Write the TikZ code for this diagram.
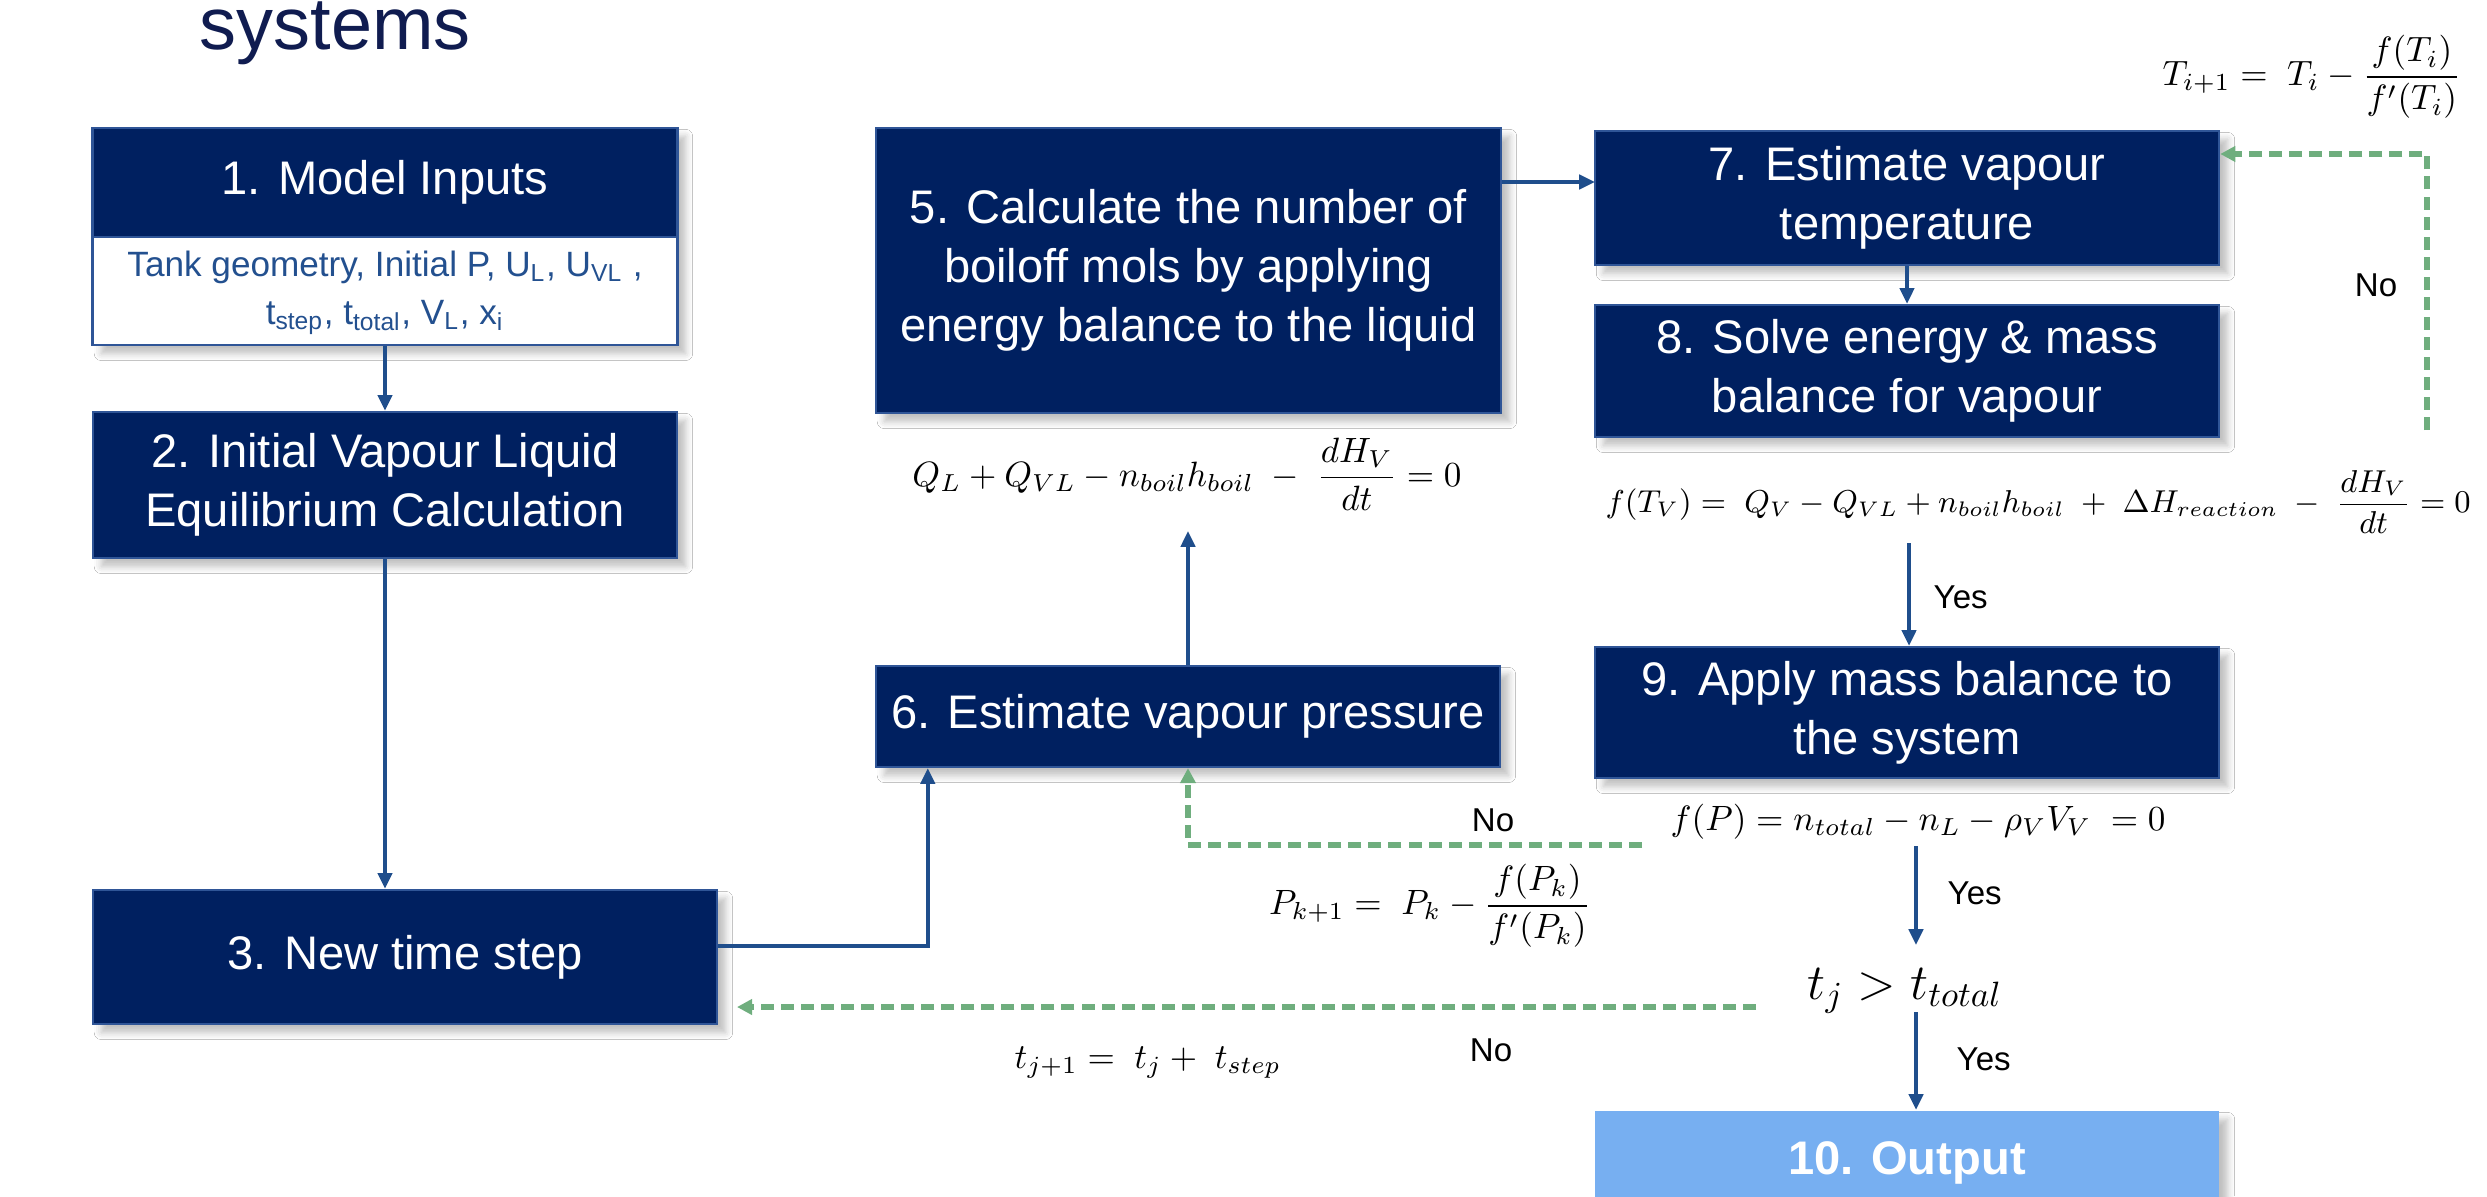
\documentclass[tikz,border=0pt]{standalone}
\usepackage{amsmath}
\usepackage[no-math]{fontspec}
\setmainfont{Liberation Sans}
\usetikzlibrary{arrows.meta,calc,shadows.blur}
\definecolor{navy}{HTML}{002060}
\definecolor{edgeblue}{HTML}{2F5597}
\definecolor{connblue}{HTML}{1F4E8C}
\definecolor{nogreen}{HTML}{6FAE7E}
\definecolor{outblue}{HTML}{77AFF1}
\definecolor{titlenavy}{HTML}{101C50}
\definecolor{inputblue}{HTML}{23508F}
\newcommand{\bxfont}{\fontsize{13.4}{16.8}\selectfont}
\newcommand{\inpfont}{\fontsize{10.0}{13.7}\selectfont}
\newcommand{\lblfont}{\fontsize{9.4}{11}\selectfont}
\newcommand{\eqfont}{\fontsize{10}{12}\selectfont}
\newcommand{\eqTfont}{\fontsize{9.1}{11}\selectfont}
\newcommand{\condfont}{\fontsize{14.2}{16}\selectfont}
\newcommand{\ttlfont}{\fontsize{21}{24}\selectfont}
\begin{document}
\begin{tikzpicture}[x=0.01cm,y=-0.01cm,
  shade/.style={blur shadow={shadow xshift=2.4pt, shadow yshift=-2.4pt, shadow blur radius=2pt, shadow opacity=25}},
  box/.style={fill=navy, draw=edgeblue, line width=0.6pt, text=white, align=center, inner sep=0pt, font=\bxfont, shade},
  conn/.style={draw=connblue, line width=1.15pt, -{Triangle[length=4.5pt,width=4pt]}},
  loopback/.style={draw=nogreen, line width=1.5pt, dash pattern=on 3.7pt off 2pt, -{Triangle[length=4.3pt,width=4.3pt]}},
  lbl/.style={font=\lblfont, inner sep=0pt},
  eq/.style={font=\eqfont, inner sep=0pt}]
\clip (0,0) rectangle (2487,1196);
\fill[white] (0,0) rectangle (2487,1196);

% title fragment
\node[font=\ttlfont, text=titlenavy, anchor=base west, inner sep=0pt] (title) at (199,49) {systems};

% box 1
\node[fill=white, draw=edgeblue, line width=0.8pt, minimum width=5.84cm, minimum height=2.17cm, inner sep=0pt, shade] (b1) at (385,236.5) {};
\node[fill=navy, draw=edgeblue, line width=0.6pt, minimum width=5.84cm, minimum height=1.09cm, inner sep=0pt, text=white, font=\bxfont] (b1h) at (385,182.5) {1. Model Inputs};
\node[font=\inpfont, text=inputblue, align=center, inner sep=0pt] (b1t) at (385,293) {Tank geometry, Initial P, U\textsubscript{L}, U\textsubscript{VL} ,\\t\textsubscript{step}, t\textsubscript{total}, V\textsubscript{L}, x\textsubscript{i}};

% other boxes
\node[box, minimum width=5.84cm, minimum height=1.46cm] (b2) at (385,485) {2. Initial Vapour Liquid\\Equilibrium Calculation};
\node[box, minimum width=6.24cm, minimum height=1.34cm] (b3) at (405,957) {3. New time step};
\node[box, minimum width=6.25cm, minimum height=2.85cm] (b5) at (1188.5,270.5) {5. Calculate the number of\\boiloff mols by applying\\energy balance to the liquid};
\node[box, minimum width=6.24cm, minimum height=1.01cm] (b6) at (1188,716.5) {6. Estimate vapour pressure};
\node[box, minimum width=6.24cm, minimum height=1.34cm] (b7) at (1907,198) {7. Estimate vapour\\temperature};
\node[box, minimum width=6.24cm, minimum height=1.32cm] (b8) at (1907,371) {8. Solve energy \& mass\\balance for vapour};
\node[box, minimum width=6.24cm, minimum height=1.31cm] (b9) at (1907,712.5) {9. Apply mass balance to\\the system};
\node[box, fill=outblue, draw=none, font=\bxfont\bfseries, minimum width=6.24cm, minimum height=1.04cm] (b10) at (1907,1163) {10. Output};

% equations
\node[eq] (eqQ) at (1187,474) {$Q_L + Q_{VL} - n_{boil}h_{boil} \;-\; \dfrac{dH_V}{dt} = 0$};
\node[font=\eqTfont, inner sep=0pt, anchor=west] (eqT) at (1605,502) {$f(T_V) =\; Q_V - Q_{VL} + n_{boil}h_{boil} \;+\; \Delta H_{reaction} \;-\; \dfrac{dH_V}{dt} = 0$};
\node[eq] (eqTi) at (2312,77) {$T_{i+1} =\; T_i - \dfrac{f(T_i)}{f'(T_i)}$};
\node[eq] (eqP) at (1430,906) {$P_{k+1} =\; P_k - \dfrac{f(P_k)}{f'(P_k)}$};
\node[eq, anchor=base west] (eqfP) at (1670,830) {$f(P) = n_{total} - n_L - \rho_V V_V \;= 0$};
\node[font=\condfont, inner sep=0pt, anchor=base west] (cond) at (1807,999) {$t_j > t_{total}$};
\node[eq, anchor=base west] (eqtj) at (1014,1068) {$t_{j+1} =\; t_j +\; t_{step}$};

% labels
\node[lbl, anchor=base] (no1) at (2376,296) {No};
\node[lbl, anchor=base west] (yes1) at (1933,608) {Yes};
\node[lbl, anchor=base] (no2) at (1493,831) {No};
\node[lbl, anchor=base west] (yes2) at (1947,904) {Yes};
\node[lbl, anchor=base] (no3) at (1491,1061) {No};
\node[lbl, anchor=base west] (yes3) at (1956,1070) {Yes};

% coordinates
\coordinate (qtip) at (1188,531);
\coordinate (b7in) at (1595,182);
\coordinate (g1) at (2427,430);
\coordinate (y1) at (1909,543);
\coordinate (g2) at (1642,845);
\coordinate (y2) at (1916,846);
\coordinate (y2e) at (1916,945);
\coordinate (y3) at (1916,1012);
\coordinate (g3) at (1756,1007);
\coordinate (g3e) at (737,1007);

% solid connectors
\draw[conn] (b1.south) -- (b2.north);
\draw[conn] (b2.south) -- (b2.south |- b3.north);
\draw[conn] ([yshift=0.11cm]b3.east) -| ([xshift=0.53cm]b6.south west);
\draw[conn] (b6.north) -- (qtip);
\draw[conn] (b5.east |- b7in) -- (b7in);
\draw[conn] (b7.south) -- (b8.north);
\draw[conn] (y1) -- (y1 |- b9.north);
\draw[conn] (y2) -- (y2e);
\draw[conn] (y3) -- (y3 |- b10.north);

% dashed loop-backs
\draw[loopback] (g1) |- ([yshift=0.44cm]b7.east);
\draw[loopback] (g2) -| (b6.south);
\draw[loopback] (g3) -- (g3e);
\end{tikzpicture}
\end{document}
